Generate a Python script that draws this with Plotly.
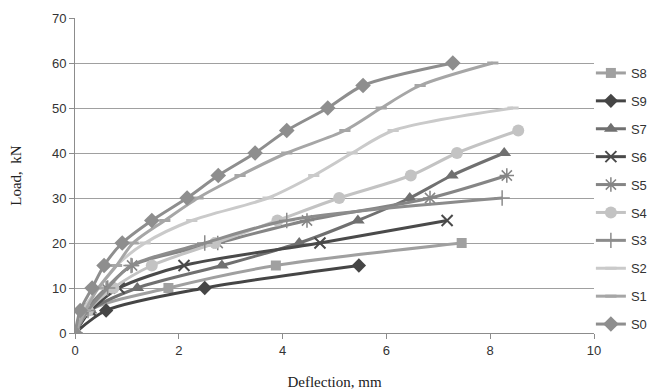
import plotly.graph_objects as go

# Data (deflection mm, load kN)
S0_x = [0, 0.1, 0.33, 0.56, 0.91, 1.48, 2.16, 2.76, 3.47, 4.08, 4.87, 5.55, 7.28]
S0_y = [0, 5, 10, 15, 20, 25, 30, 35, 40, 45, 50, 55, 60]
S1_x = [0, 0.2, 0.45, 0.8, 1.12, 1.73, 2.37, 3.18, 4.08, 5.2, 5.9, 6.65, 8.05]
S1_y = [0, 5, 10, 15, 20, 25, 30, 35, 40, 45, 50, 55, 60]
S2_x = [0, 0.15, 0.45, 0.8, 1.35, 2.25, 3.72, 4.6, 5.34, 6.13, 8.44]
S2_y = [0, 5, 10, 15, 20, 25, 30, 35, 40, 45, 50]
S3_x = [0, 0.25, 0.63, 1.08, 2.5, 4.08, 8.23]
S3_y = [0, 5, 10, 15, 20, 25, 30]
S4_x = [0, 0.25, 0.74, 1.48, 2.7, 3.9, 5.09, 6.47, 7.36, 8.54]
S4_y = [0, 5, 10, 15, 20, 25, 30, 35, 40, 45]
S5_x = [0, 0.2, 0.6, 1.1, 2.75, 4.47, 6.84, 8.32]
S5_y = [0, 5, 10, 15, 20, 25, 30, 35]
S6_x = [0, 0.3, 0.85, 2.1, 4.72, 7.17]
S6_y = [0, 5, 10, 15, 20, 25]
S7_x = [0, 0.3, 1.2, 2.83, 4.32, 5.45, 6.45, 7.26, 8.27]
S7_y = [0, 5, 10, 15, 20, 25, 30, 35, 40]
S8_x = [0, 0.28, 1.8, 3.87, 7.45]
S8_y = [0, 5, 10, 15, 20]
S9_x = [0, 0.6, 2.5, 5.47]
S9_y = [0, 5, 10, 15]

series = [
    ("S8", S8_x, S8_y, "#a0a0a0", "square", 10, 0),
    ("S9", S9_x, S9_y, "#454545", "diamond", 11, 0),
    ("S7", S7_x, S7_y, "#707070", "triangle-up", 12, 0),
    ("S6", S6_x, S6_y, "#4a4a4a", "x-thin", 11, 2),
    ("S5", S5_x, S5_y, "#858585", "asterisk", 12, 1.5),
    ("S4", S4_x, S4_y, "#c3c3c3", "circle", 12, 0),
    ("S3", S3_x, S3_y, "#8c8c8c", "cross-thin", 11, 1.5),
    ("S2", S2_x, S2_y, "#cacaca", "line-ew", 8, 3),
    ("S1", S1_x, S1_y, "#a6a6a6", "line-ew", 8, 3),
    ("S0", S0_x, S0_y, "#8e8e8e", "diamond", 12, 0),
]

fig = go.Figure()
for name, xs, ys, col, sym, sz, lw in series:
    fig.add_trace(go.Scatter(
        x=xs, y=ys, name=name, mode="lines+markers",
        legendgroup=name,
        line=dict(color=col, width=3, shape="spline", smoothing=0.8),
        marker=dict(symbol=sym, size=sz, color=col,
                    line=dict(color=col, width=lw)),
    ))

fig.update_layout(
    width=649, height=382,
    margin=dict(l=67, r=63, t=10, b=57, autoexpand=False),
    plot_bgcolor="white", paper_bgcolor="white",
    font=dict(family="Liberation Sans, Arial, sans-serif", size=13, color="#333"),
    showlegend=True,
    legend=dict(x=0.994, xanchor="left", y=0.873, yanchor="top",
                tracegroupgap=8, font=dict(size=13, color="#333"),
                bgcolor="rgba(0,0,0,0)", itemwidth=30),
    xaxis=dict(range=[0, 10], dtick=2, showgrid=False, showline=True,
               linecolor="#8c8c8c", linewidth=1, ticks="outside", ticklen=5,
               tickcolor="#8c8c8c", zeroline=False, automargin=False,
               title=dict(text="Deflection, mm", standoff=20,
                          font=dict(family="Liberation Serif, Times New Roman, serif", size=15, color="#222"))),
    yaxis=dict(range=[0, 70], dtick=10, showgrid=True, gridcolor="#a0a0a0",
               showline=True, linecolor="#8c8c8c", linewidth=1,
               ticks="outside", ticklen=5, tickcolor="#8c8c8c", zeroline=False,
               automargin=False,
               title=dict(text="Load,  kN", standoff=29,
                          font=dict(family="Liberation Serif, Times New Roman, serif", size=15, color="#222"))),
)

fig.write_html("out.html")
